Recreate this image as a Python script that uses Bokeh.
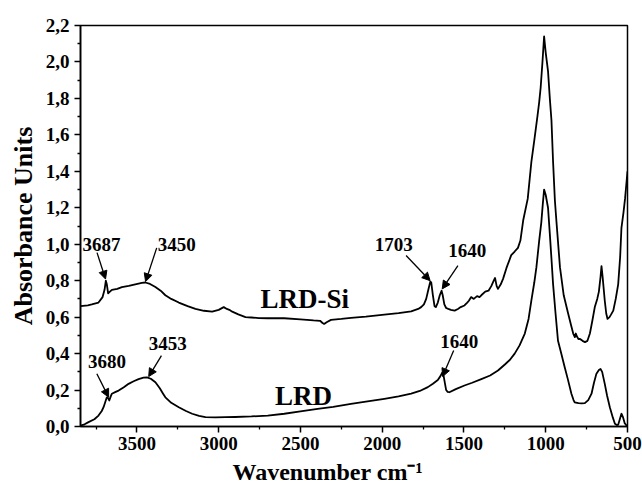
from bokeh.plotting import figure
from bokeh.models import Range1d, FixedTicker, CustomJSTickFormatter, Label, Arrow, NormalHead, Title
from bokeh.embed import file_html
from bokeh.resources import INLINE

# ---- data ----
lrdsi_wn = [3845, 3800, 3776, 3735, 3710, 3698, 3690, 3684, 3676, 3665, 3653, 3620, 3592, 3550,
            3510, 3470, 3449, 3420, 3387, 3355, 3326, 3290, 3244, 3190, 3142, 3090, 3040, 3000,
            2969, 2950, 2935, 2917, 2880, 2836, 2800, 2754, 2700, 2599, 2500, 2420, 2380, 2365,
            2355, 2340, 2313, 2250, 2191, 2100, 1987, 1900, 1823, 1780, 1762, 1745, 1731, 1718,
            1706, 1700, 1690, 1680, 1672, 1660, 1648, 1637, 1630, 1620, 1609, 1596, 1580, 1557,
            1537, 1520, 1497, 1480, 1470, 1456, 1440, 1420, 1405, 1394, 1370, 1350, 1333, 1318,
            1310, 1300, 1292, 1275, 1261, 1240, 1211, 1190, 1170, 1155, 1138, 1110, 1088, 1070,
            1051, 1040, 1031, 1020, 1010, 1000, 986, 975, 965, 955, 944, 935, 913, 890, 863, 845,
            832, 822, 816, 810, 800, 790, 775, 760, 745, 730, 715, 700, 685, 675, 665, 659, 652,
            639, 630, 622, 610, 600, 587, 572, 557, 545, 537, 525, 515, 500]
lrdsi_abs = [0.66, 0.665, 0.67, 0.68, 0.71, 0.75, 0.80, 0.78, 0.73, 0.74, 0.75, 0.755, 0.765, 0.772,
             0.78, 0.788, 0.79, 0.782, 0.765, 0.745, 0.72, 0.70, 0.68, 0.66, 0.645, 0.635, 0.63, 0.64,
             0.655, 0.645, 0.64, 0.63, 0.615, 0.60, 0.598, 0.595, 0.594, 0.594, 0.588, 0.582, 0.58, 0.568,
             0.563, 0.572, 0.585, 0.59, 0.596, 0.603, 0.614, 0.622, 0.632, 0.645, 0.655, 0.67, 0.70, 0.75,
             0.795, 0.79, 0.72, 0.66, 0.655, 0.68, 0.72, 0.745, 0.72, 0.67, 0.65, 0.645, 0.64, 0.636,
             0.645, 0.655, 0.664, 0.68, 0.69, 0.71, 0.70, 0.715, 0.71, 0.72, 0.74, 0.745, 0.77, 0.80,
             0.815, 0.77, 0.755, 0.78, 0.81, 0.87, 0.94, 0.96, 0.98, 1.02, 1.13, 1.25, 1.45, 1.57,
             1.70, 1.78, 1.86, 2.0, 2.14, 2.05, 1.95, 1.80, 1.68, 1.45, 1.24, 1.13, 0.874, 0.72, 0.62, 0.555,
             0.51, 0.49, 0.51, 0.495, 0.48, 0.48, 0.47, 0.463, 0.47, 0.51, 0.58, 0.655, 0.70, 0.74, 0.82, 0.88, 0.82,
             0.69, 0.62, 0.59, 0.60, 0.615, 0.636, 0.70, 0.78, 0.93, 1.09, 1.17, 1.25, 1.40]

lrd_wn = [3845, 3820, 3796, 3760, 3735, 3715, 3704, 3695, 3684, 3676, 3669, 3660, 3653, 3630, 3612,
          3580, 3551, 3520, 3490, 3460, 3439, 3415, 3387, 3360, 3340, 3326, 3290, 3244, 3200, 3162,
          3120, 3081, 3020, 2958, 2900, 2800, 2700, 2599, 2500, 2395, 2300, 2191, 2100, 1987, 1900,
          1823, 1770, 1721, 1690, 1660, 1645, 1633, 1625, 1615, 1609, 1600, 1589, 1550, 1497, 1450,
          1394, 1340, 1292, 1250, 1220, 1190, 1160, 1128, 1105, 1088, 1070, 1057, 1040, 1027, 1018,
          1010, 1000, 986, 975, 965, 955, 940, 925, 905, 884, 865, 843, 830, 823, 800, 780, 761, 740,
          720, 705, 690, 675, 665, 655, 639, 625, 608, 590, 577, 565, 557, 547, 537, 527, 517, 505, 500]
lrd_abs = [0.005, 0.012, 0.024, 0.04, 0.06, 0.085, 0.106, 0.13, 0.16, 0.155, 0.143, 0.165, 0.18, 0.19, 0.197,
           0.215, 0.234, 0.248, 0.26, 0.268, 0.27, 0.262, 0.243, 0.21, 0.18, 0.16, 0.13, 0.106, 0.085, 0.07,
           0.058, 0.051, 0.05, 0.051, 0.052, 0.055, 0.06, 0.07, 0.083, 0.097, 0.108, 0.124, 0.136, 0.152, 0.165,
           0.18, 0.195, 0.216, 0.235, 0.255, 0.275, 0.295, 0.28, 0.23, 0.20, 0.19, 0.188, 0.205, 0.225, 0.24,
           0.26, 0.28, 0.307, 0.34, 0.365, 0.40, 0.445, 0.51, 0.59, 0.69, 0.79, 0.874, 1.02, 1.12, 1.22,
           1.30, 1.27, 1.20, 1.057, 0.92, 0.78, 0.62, 0.47, 0.40, 0.325, 0.26, 0.18, 0.145, 0.133, 0.128, 0.127, 0.128, 0.145,
           0.18, 0.24, 0.29, 0.31, 0.316, 0.30, 0.234, 0.17, 0.106, 0.05, 0.015, 0.008, 0.01, 0.04, 0.07, 0.05, 0.018, 0.005, 0.003]

x_ticks = [3500, 3000, 2500, 2000, 1500, 1000, 500]
y_ticks = [0.0, 0.2, 0.4, 0.6, 0.8, 1.0, 1.2, 1.4, 1.6, 1.8, 2.0, 2.2]

# peak annotations: label, arrow head (wn, A), arrow tail (wn, A), text centre (wn, A)
ann_text = ["3687", "3450", "1703", "1640", "3680", "3453", "1640"]
ann_head_wn = [3692, 3447, 1707, 1633, 3673, 3428, 1631]
ann_head_a = [0.809, 0.795, 0.80, 0.755, 0.161, 0.274, 0.274]
ann_tail_wn = [3744, 3379, 1854, 1537, 3745, 3350, 1563]
ann_tail_a = [0.954, 0.98, 0.938, 0.883, 0.289, 0.389, 0.417]
ann_text_wn = [3716, 3256, 1930, 1480, 3683, 3312, 1529]
ann_text_a = [0.998, 0.998, 0.998, 0.963, 0.357, 0.455, 0.469]

series_names = ["LRD-Si", "LRD"]
series_label_wn = [2473, 2482]
series_label_a = [0.70, 0.17]

FONT = "Liberation Serif"

p = figure(width=642, height=488, output_backend="svg", toolbar_location=None,
           x_range=Range1d(3845, 500), y_range=Range1d(0, 2.2),
           min_border_left=80, min_border_right=15, min_border_top=25, min_border_bottom=62)
p.background_fill_color = "white"
p.border_fill_color = "white"
p.outline_line_color = "black"
p.outline_line_width = 1.5
p.xgrid.visible = False
p.ygrid.visible = False

p.line(lrdsi_wn, lrdsi_abs, line_color="black", line_width=1.8, line_join="round")
p.line(lrd_wn, lrd_abs, line_color="black", line_width=1.8, line_join="round")

xminor = [t + 250 for t in x_ticks]
yminor = [round(t + 0.1, 2) for t in y_ticks[:-1]]
p.xaxis.ticker = FixedTicker(ticks=x_ticks, minor_ticks=xminor)
p.yaxis.ticker = FixedTicker(ticks=y_ticks, minor_ticks=yminor)
p.yaxis.formatter = CustomJSTickFormatter(code="return tick.toFixed(1).replace('.', ',');")

for ax in (p.xaxis, p.yaxis):
    ax.axis_line_width = 1.6
    ax.axis_line_color = "black"
    ax.major_tick_in = 0
    ax.major_tick_out = 6
    ax.minor_tick_in = 0
    ax.minor_tick_out = 3
    ax.major_tick_line_width = 1.5
    ax.minor_tick_line_width = 1.3
    ax.major_tick_line_color = "black"
    ax.minor_tick_line_color = "black"
    ax.major_label_text_font = FONT
    ax.major_label_text_font_style = "bold"
    ax.major_label_text_font_size = "19px"
    ax.major_label_text_color = "black"
    ax.major_label_standoff = 5
p.xaxis.major_label_standoff = 4

# axis titles as side-panel titles so they can be placed like the reference
p.add_layout(Title(text="Absorbance Units", align="center", offset=14, standoff=9,
                   text_font=FONT, text_font_style="bold", text_font_size="26px",
                   text_color="black"), "left")
p.add_layout(Title(text="Wavenumber cm\u207b\u00b9", align="left", offset=152, standoff=8,
                   text_font=FONT, text_font_style="bold", text_font_size="24px",
                   text_color="black"), "below")

for i, t in enumerate(ann_text):
    p.add_layout(Arrow(end=NormalHead(size=8, fill_color="black", line_color="black", line_width=1),
                       x_start=ann_tail_wn[i], y_start=ann_tail_a[i],
                       x_end=ann_head_wn[i], y_end=ann_head_a[i],
                       line_color="black", line_width=1.3))
    p.add_layout(Label(x=ann_text_wn[i], y=ann_text_a[i], text=t, text_font=FONT,
                       text_font_style="bold", text_font_size="19px", text_align="center",
                       text_baseline="middle", text_color="black"))

for name, xw, ya in zip(series_names, series_label_wn, series_label_a):
    p.add_layout(Label(x=xw, y=ya, text=name, text_font=FONT, text_font_style="bold",
                       text_font_size="27px", text_align="center", text_baseline="middle",
                       text_color="black"))

open("out.html", "w").write(file_html(p, INLINE))
